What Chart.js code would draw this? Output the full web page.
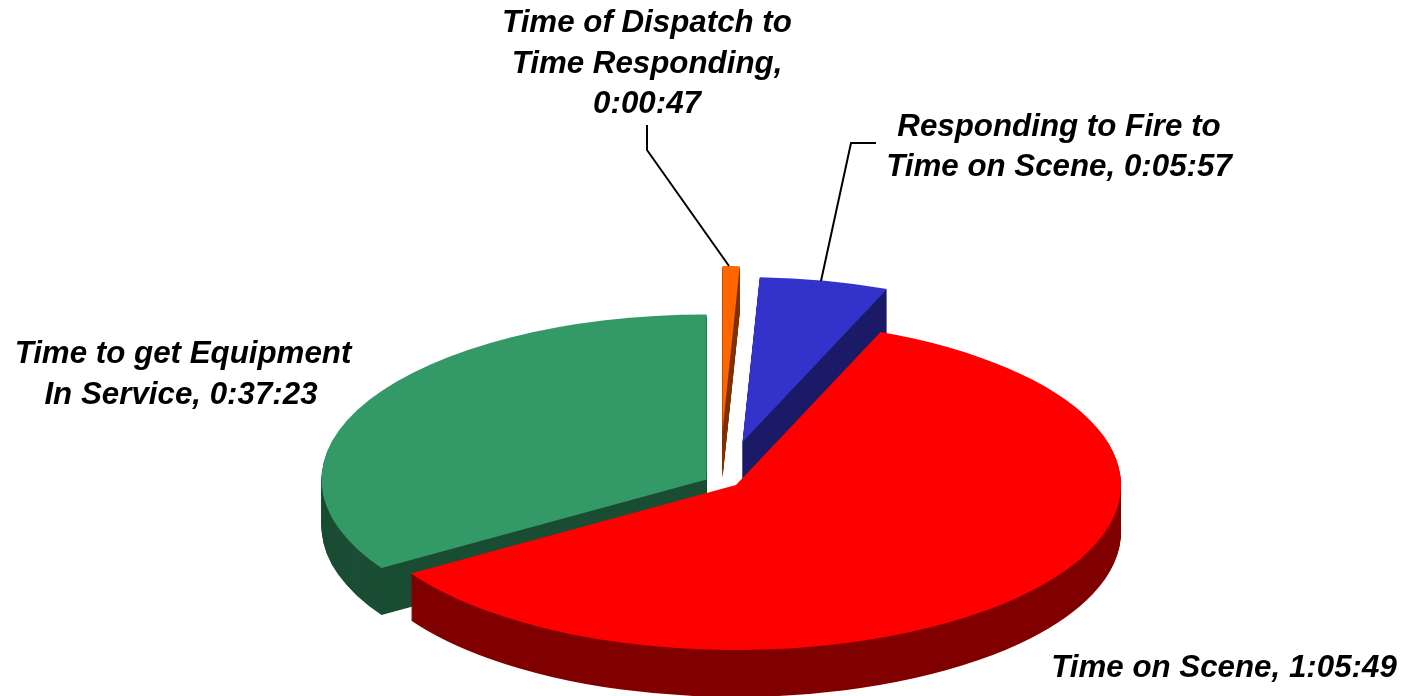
<!DOCTYPE html>
<html>
<head>
<meta charset="utf-8">
<style>html,body{margin:0;padding:0;background:#fff;overflow:hidden}#wrap{position:absolute;left:0;top:0;width:1405px;height:696px}</style>
<script src="https://cdn.jsdelivr.net/npm/chart.js@4"></script>
</head>
<body>
<div id="wrap"><canvas id="c" width="1405" height="696"></canvas></div>
<script>
// Clockwise order around the pie.
const categories = ["Time to get Equipment In Service", "Time of Dispatch to Time Responding", "Responding to Fire to Time on Scene", "Time on Scene"];
const durationsSeconds = [2243, 47, 357, 3949]; // 0:37:23, 0:00:47, 0:05:57, 1:05:49
const topColors = ["#339966", "#ff6600", "#3333cc", "#ff0000"];
const sideColors = ["#1a4d33", "#803300", "#1a1a66", "#800000"];
const explodeX = [-12.5, 3.5, 23.5, 17];
const explodeY = [-2.5, -51, -40, 3];
const sideOrder = [1, 2, 0, 3];

const labelLines = [
  ["Time of Dispatch to", 647, 32, "center"],
  ["Time Responding,", 647, 73, "center"],
  ["0:00:47", 647, 113, "center"],
  ["Responding to Fire to", 1059, 136, "center"],
  ["Time on Scene, 0:05:57", 1059, 176, "center"],
  ["Time to get Equipment", 183, 363, "center"],
  ["In Service, 0:37:23", 181, 404, "center"],
  ["Time on Scene, 1:05:49", 1224, 677, "center"]
];
const leaders = [
  [[647, 125], [647, 150], [729, 266]],
  [[876, 143], [851, 143], [821, 281]]
];

const RADIUS = 385, TILT = 0.4286, DEPTH = 47, CENTER_Y = 482;
const total = durationsSeconds.reduce((a, b) => a + b, 0);

function tilt(ctx, chart, dy) {
  const cy = (chart.chartArea.top + chart.chartArea.bottom) / 2;
  ctx.translate(0, CENTER_Y + dy);
  ctx.scale(1, TILT);
  ctx.translate(0, -cy);
}

const pie3d = {
  id: "pie3d",
  afterDatasetsUpdate(chart) {
    chart.getDatasetMeta(0).data.forEach((el, i) => {
      el.x += explodeX[i];
      el.y += explodeY[i] / TILT;
    });
  },
  beforeDatasetsDraw(chart) {
    const ctx = chart.ctx;
    const arcs = chart.getDatasetMeta(0).data;
    sideOrder.forEach(i => {
      const el = arcs[i], saved = el.options;
      el.options = Object.assign({}, saved, { backgroundColor: sideColors[i], borderColor: sideColors[i] });
      for (let d = DEPTH; d >= 1; d--) {
        ctx.save();
        tilt(ctx, chart, d);
        el.draw(ctx);
        ctx.restore();
      }
      el.options = saved;
    });
    ctx.save();
    tilt(ctx, chart, 0);
  },
  afterDatasetsDraw(chart) {
    chart.ctx.restore();
  },
  afterDraw(chart) {
    const ctx = chart.ctx;
    ctx.save();
    ctx.strokeStyle = "#000";
    ctx.lineWidth = 2;
    leaders.forEach(pts => {
      ctx.beginPath();
      pts.forEach((p, i) => i ? ctx.lineTo(p[0], p[1]) : ctx.moveTo(p[0], p[1]));
      ctx.stroke();
    });
    ctx.fillStyle = "#000";
    ctx.font = 'italic bold 31.3px "Liberation Sans", Arial, sans-serif';
    ctx.textBaseline = "alphabetic";
    labelLines.forEach(l => {
      ctx.textAlign = l[3];
      ctx.fillText(l[0], l[1], l[2]);
    });
    ctx.restore();
  }
};

new Chart(document.getElementById("c"), {
  type: "pie",
  data: {
    labels: categories,
    datasets: [{
      data: durationsSeconds,
      backgroundColor: topColors,
      borderWidth: 0,
      clip: false
    }]
  },
  options: {
    responsive: false,
    animation: false,
    events: [],
    radius: RADIUS,
    rotation: -360 * durationsSeconds[0] / total,
    layout: { padding: { left: 33 } },
    plugins: { legend: { display: false }, tooltip: { enabled: false }, title: { display: false } }
  },
  plugins: [pie3d]
});
</script>
</body>
</html>
